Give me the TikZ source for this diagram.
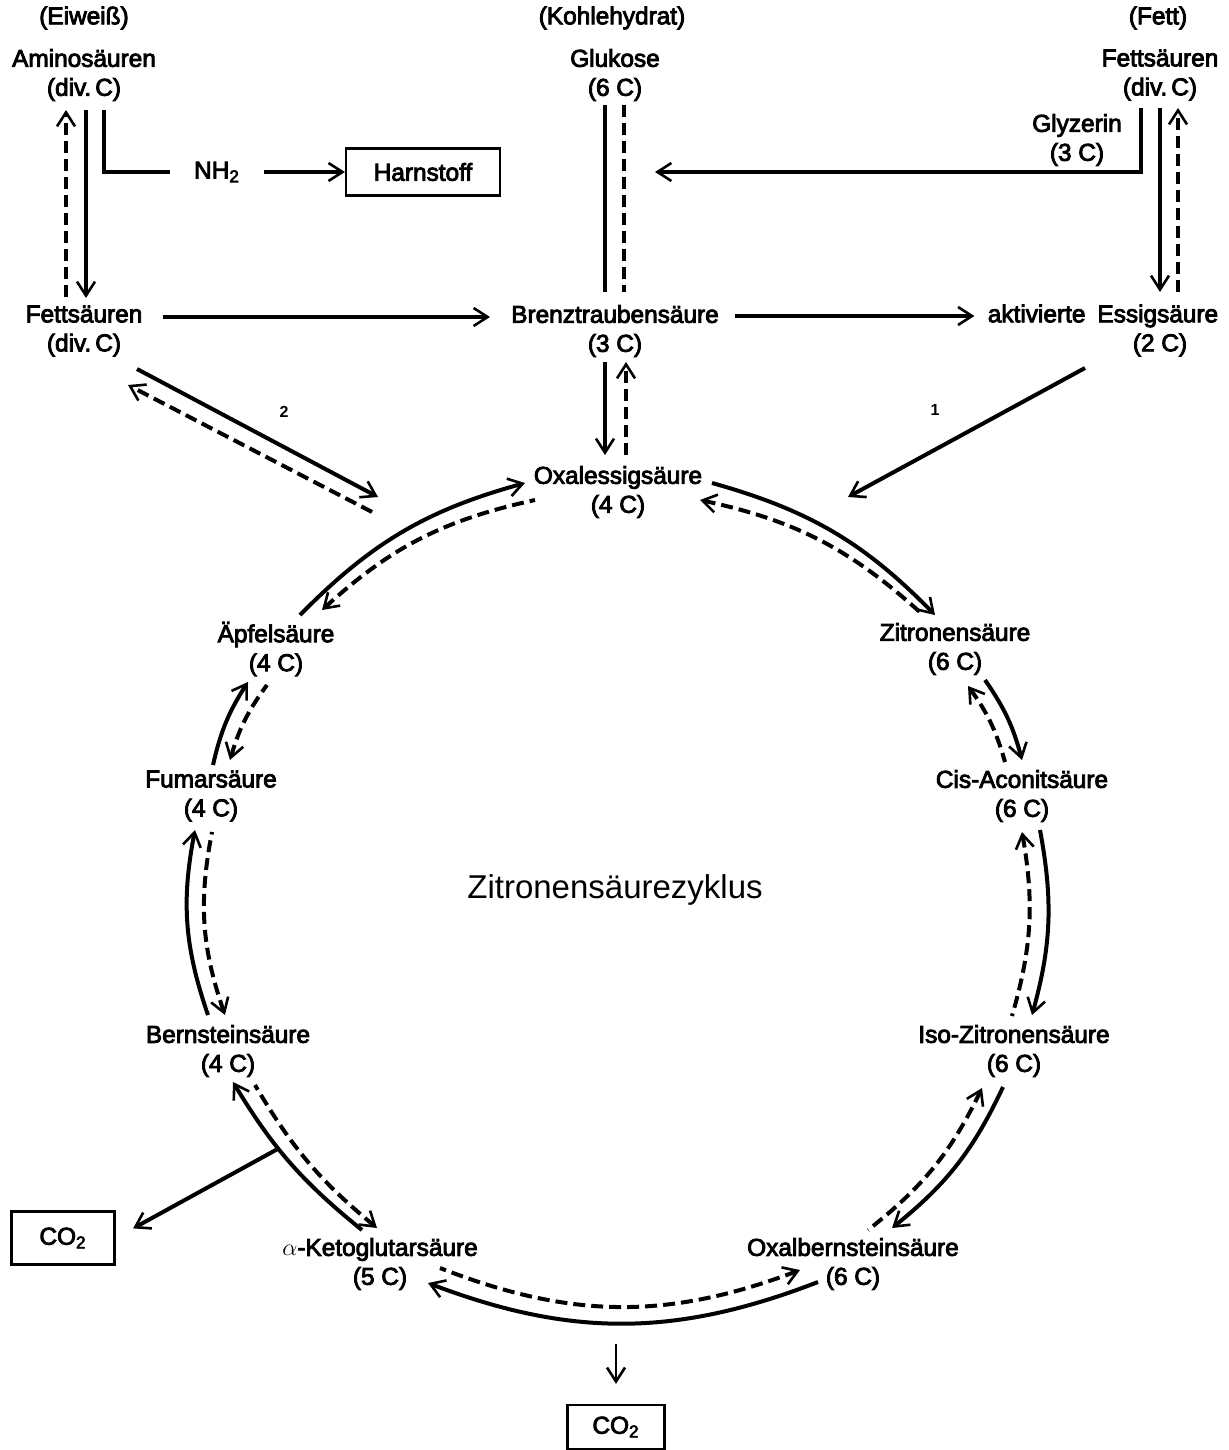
\documentclass[tikz,border=0pt]{standalone}
\usepackage{fontspec}
\setmainfont{Liberation Sans}
\newfontfamily\labfont[FakeBold=3.5]{Liberation Sans}
\usetikzlibrary{arrows.meta,calc}
\begin{document}
\begin{tikzpicture}[x=0.5pt,y=0.5pt,
  >={Straight Barb[length=7pt,width=9pt,line width=1.3pt]},
  lbl/.style={font=\labfont\fontsize{12.2}{14.5}\selectfont, align=center, inner sep=0pt},
  boxn/.style={lbl, draw, line width=1.1pt},
  ln/.style={line width=2pt},
  dl/.style={line width=2pt, dash pattern=on 6pt off 3pt},
  num/.style={font=\bfseries\fontsize{8}{9}\selectfont, inner sep=0pt}]
\useasboundingbox (0,0) rectangle (1229,-1450);
% headers
\node[lbl] (eiw) at (84,-18) {(Eiweiß)};
\node[lbl] (kohle) at (612,-18) {(Kohlehydrat)};
\node[lbl] (fett) at (1158,-18) {(Fett)};
% substances
\node[lbl] (amino) at (84,-75) {Aminosäuren\\(div.\,C)};
\node[lbl] (gluk) at (615,-75) {Glukose\\(6 C)};
\node[lbl] (fettR) at (1160,-75) {Fettsäuren\\(div.\,C)};
\node[lbl] (glyz) at (1077,-140) {Glyzerin\\(3 C)};
\node[lbl, inner xsep=12pt] (nh2) at (217,-172) {NH\textsubscript{2}};
\node[boxn, minimum width=77pt, minimum height=23.5pt] (harn) at (423,-172) {Harnstoff};
\node[lbl] (fettL) at (84,-331) {Fettsäuren\\(div.\,C)};
\node[lbl] (brenz) at (615,-331) {Brenztraubensäure\\(3 C)};
\node[lbl, inner xsep=6.5pt] (essig) at (1103,-316) {aktivierte\hspace{6pt}Essigsäure};
\node[lbl] (ess2) at (1160,-345) {(2 C)};
\node[num] (n1) at (935,-410) {1};
\node[num] (n2) at (284,-412) {2};
% cycle
\node[lbl] (oxal) at (618,-492) {Oxalessigsäure\\(4 C)};
\node[lbl] (zitr) at (955,-649) {Zitronensäure\\(6 C)};
\node[lbl] (cis) at (1022,-796) {Cis-Aconitsäure\\(6 C)};
\node[lbl] (iso) at (1014,-1051) {Iso-Zitronensäure\\(6 C)};
\node[lbl] (oxb) at (853,-1264) {Oxalbernsteinsäure\\(6 C)};
\node[lbl] (akg) at (380,-1264) {$\alpha$-Ketoglutarsäure\\(5 C)};
\node[lbl] (bern) at (228,-1051) {Bernsteinsäure\\(4 C)};
\node[lbl] (fum) at (211,-796) {Fumarsäure\\(4 C)};
\node[lbl] (apf) at (276,-649) {Äpfelsäure\\(4 C)};
\node[font=\fontsize{16.5}{19}\selectfont, inner sep=0pt] (zyk) at (615,-890) {Zitronensäurezyklus};
\node[boxn, minimum width=51.5pt, minimum height=26.5pt] (co2L) at (63,-1238) {CO\textsubscript{2}};
\node[boxn, minimum width=48.5pt, minimum height=22pt] (co2B) at (616,-1427) {CO\textsubscript{2}};
% top connectors
\draw[dl,->] ($(fettL)+(-18,34)$) -- ($(amino)+(-18,-35)$);
\draw[ln,->] ($(amino)+(2,-35)$) -- ($(fettL)+(2,33)$);
\draw[ln] ($(amino)+(20,-35)$) |- (nh2.west);
\draw[ln,->] (nh2.east) -- (harn.west);
\draw[ln,->] ($(fettL)+(79,14)$) -- ($(brenz)+(-125,14)$);
\draw[ln,->] ($(brenz)+(120,15)$) -- (essig.west);
\draw[ln] ($(gluk)+(-10,-30)$) -- ($(brenz)+(-10,39)$);
\draw[dl] ($(gluk)+(9,-30)$) -- ($(brenz)+(9,39)$);
\draw[ln,->] ($(fettR)+(-19,-33)$) |- ($(gluk)+(40,-97)$);
\draw[ln,->] ($(fettR)+(0,-33)$) -- ($(essig)+(57,24)$);
\draw[dl,->] ($(essig)+(75,24)$) -- ($(fettR)+(18,-33)$);
\draw[ln,->] ($(brenz)+(-10,-31)$) -- ($(oxal)+(-13,37)$);
\draw[dl,->] ($(oxal)+(8,37)$) -- ($(brenz)+(11,-31)$);
\draw[ln,->] ($(ess2)+(-75,-23)$) -- ($(oxal)+(230,-5)$);
\draw[ln,->] ($(fettL)+(53,-38)$) -- ($(oxal)+(-240,-5)$);
\draw[dl,->] ($(oxal)+(-246,-20)$) -- ($(fettL)+(44,-54)$);
% cycle arcs (solid clockwise, dashed counter-clockwise)
\draw[ln,->] ($(oxal)+(94,9)$) to[bend left=15] ($(zitr)+(-20,34)$);
\draw[dl,<-] ($(oxal)+(82,-8)$) to[bend left=15] ($(zitr)+(-33,35)$);
\draw[ln,->] ($(zitr)+(30,-31)$) to[bend left=10] ($(cis)+(0,36)$);
\draw[dl,<-] ($(zitr)+(13,-37)$) to[bend left=10] ($(cis)+(-17,34)$);
\draw[ln,->] ($(cis)+(18,-34)$) to[bend left=13] ($(iso)+(18,36)$);
\draw[dl,<-] ($(cis)+(0,-36)$) to[bend left=13] ($(iso)+(-2,35)$);
\draw[ln,->] ($(iso)+(-11,-36)$) to[bend left=13] ($(oxb)+(39,36)$);
\draw[dl,<-] ($(iso)+(-32,-37)$) to[bend left=13] ($(oxb)+(15,34)$);
\draw[ln,->] ($(oxb)+(-35,-18)$) to[bend left=21] coordinate[pos=0.5] (kb) ($(akg)+(48,-19)$);
\draw[dl,<-] ($(oxb)+(-53,-6)$) to[bend left=21] ($(akg)+(60,-4)$);
\draw[ln,->] ($(akg)+(-18,34)$) to[bend left=10] coordinate[pos=0.6] (kl) ($(bern)+(5,-31)$);
\draw[dl,<-] ($(akg)+(-3,36)$) to[bend left=10] ($(bern)+(27,-34)$);
\draw[ln,->] ($(bern)+(-20,36)$) to[bend left=15] ($(fum)+(-16,-34)$);
\draw[dl,<-] ($(bern)+(-3,36)$) to[bend left=15] ($(fum)+(1,-36)$);
\draw[ln,->] ($(fum)+(2,31)$) to[bend left=10] ($(apf)+(-28,-33)$);
\draw[dl,<-] ($(fum)+(19,36)$) to[bend left=10] ($(apf)+(-9,-36)$);
\draw[ln,->] ($(apf)+(24,34)$) to[bend left=15] ($(oxal)+(-93,9)$);
\draw[dl,<-] ($(apf)+(46,39)$) to[bend left=15] ($(oxal)+(-83,-8)$);
% CO2 outputs
\draw[ln,->,shorten >=10pt] (kl) -- (co2L.east);
\draw[line width=1.4pt,->,shorten <=10pt,shorten >=10pt] (co2B.north |- kb) -- (co2B.north);
\end{tikzpicture}
\end{document}
